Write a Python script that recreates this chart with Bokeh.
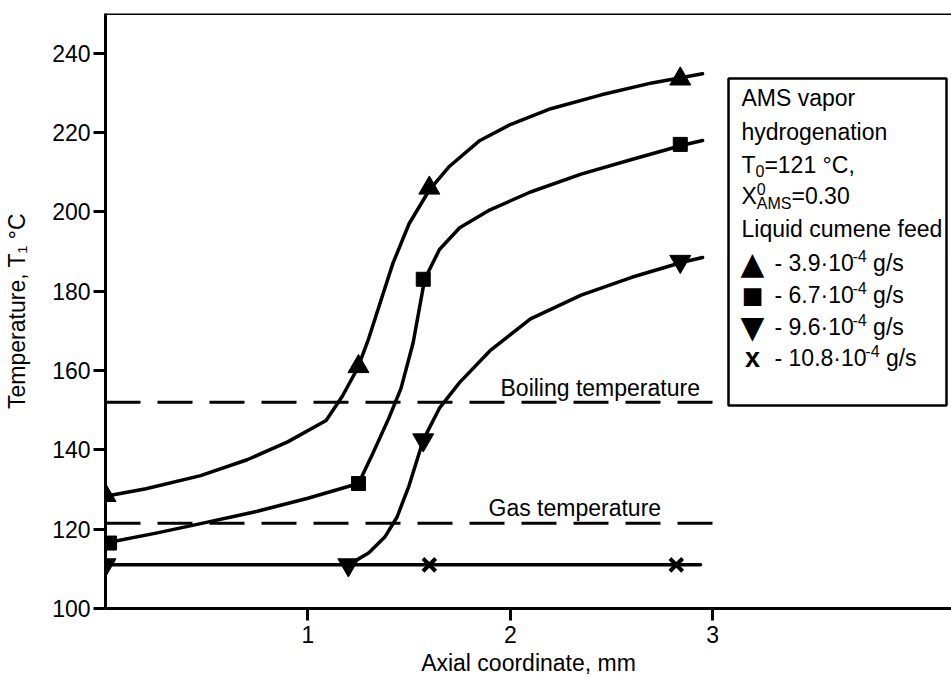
from bokeh.plotting import figure
from bokeh.models import Range1d, FixedTicker, Label, BoxAnnotation, Span
from bokeh.embed import file_html
from bokeh.resources import INLINE

# ---------------- data ----------------
x_ticks = [1, 2, 3]
y_ticks = [100, 120, 140, 160, 180, 200, 220, 240]

# measured points
tri_up_x = [0.0, 1.25, 1.60, 2.84]
tri_up_y = [128.5, 161.0, 206.0, 233.5]
square_x = [0.02, 1.25, 1.57, 2.84]
square_y = [116.5, 131.5, 183.0, 217.0]
tri_down_x = [0.0, 1.20, 1.57, 2.84]
tri_down_y = [111.0, 111.0, 142.5, 187.5]
cross_x = [1.60, 2.82]
cross_y = [111.0, 111.0]

# fitted curves
tri_up_cx = [0.0, 0.2, 0.47, 0.7, 0.9, 1.09, 1.17, 1.245, 1.3, 1.36, 1.42, 1.5, 1.6,
             1.7, 1.85, 2.0, 2.2, 2.45, 2.7, 2.95]
tri_up_cy = [128.3, 130.2, 133.5, 137.5, 142.0, 147.4, 153.5, 160.5, 168.0, 177.5, 187.0,
             197.0, 205.5, 211.5, 218.0, 222.0, 226.0, 229.5, 232.5, 234.8]
square_cx = [0.0, 0.25, 0.47, 0.75, 1.0, 1.25, 1.32, 1.4, 1.46, 1.52, 1.577, 1.65, 1.75,
             1.9, 2.1, 2.35, 2.6, 2.85, 2.95]
square_cy = [116.5, 119.0, 121.4, 124.5, 127.8, 131.5, 139.0, 148.0, 155.5, 167.0, 183.0,
             190.5, 196.0, 200.5, 205.0, 209.5, 213.2, 216.8, 218.0]
tri_down_cx = [1.2, 1.3, 1.38, 1.44, 1.5, 1.57, 1.65, 1.75, 1.9, 2.1, 2.35, 2.6, 2.85, 2.95]
tri_down_cy = [111.0, 114.0, 118.0, 123.0, 131.0, 142.5, 150.5, 157.0, 165.0, 173.0,
               179.0, 183.5, 187.3, 188.5]
cross_cx = [0.0, 2.94]
cross_cy = [111.0, 111.0]

boiling_T = 152.0
gas_T = 121.5
ref_x = [0.0, 3.0]

X_END = 4.18
Y_START, Y_END = 100, 250

# ---------------- figure ----------------
p = figure(width=951, height=680, x_range=Range1d(0, X_END), y_range=Range1d(Y_START, Y_END),
           output_backend="svg", toolbar_location=None,
           min_border_left=105, min_border_right=0, min_border_top=13, min_border_bottom=72)
p.outline_line_color = None
p.xgrid.visible = False
p.ygrid.visible = False
p.background_fill_color = "white"
p.border_fill_color = "white"

FONT = "Liberation Sans"
FS = 23
for ax in (p.xaxis[0], p.yaxis[0]):
    ax.axis_line_width = 3
    ax.axis_line_color = "black"
    ax.major_tick_line_width = 3
    ax.major_tick_line_color = "black"
    ax.major_tick_out = 12
    ax.major_tick_in = 0
    ax.minor_tick_line_color = None
    ax.major_label_text_font = FONT
    ax.major_label_text_font_size = f"{FS}px"
    ax.major_label_text_color = "black"
    ax.axis_label_text_font = FONT
    ax.axis_label_text_font_size = f"{FS}px"
    ax.axis_label_text_font_style = "normal"
    ax.axis_label_text_color = "black"

p.xaxis[0].ticker = FixedTicker(ticks=x_ticks)
p.xaxis[0].major_label_standoff = 5
p.xaxis[0].axis_label = "Axial coordinate, mm"
p.xaxis[0].axis_label_standoff = 4
p.yaxis[0].ticker = FixedTicker(ticks=y_ticks)
p.yaxis[0].major_label_standoff = 3
p.yaxis[0].axis_label = "Temperature, T\u2081 \u00b0C"
p.yaxis[0].axis_label_standoff = 19

# top border line
p.add_layout(Span(location=Y_END, dimension="width", line_color="black", line_width=3))

# reference dashed lines
p.line(ref_x, [boiling_T, boiling_T], line_color="black", line_width=3, line_dash="35 17")
p.line(ref_x, [gas_T, gas_T], line_color="black", line_width=3, line_dash="35 17")

# curves
for cx, cy in ((tri_up_cx, tri_up_cy), (square_cx, square_cy),
               (tri_down_cx, tri_down_cy), (cross_cx, cross_cy)):
    p.line(cx, cy, line_color="black", line_width=3.5, line_join="round", line_cap="round")

# markers
p.scatter(tri_up_x, tri_up_y, marker="triangle", size=21, fill_color="black", line_color="black")
p.scatter(square_x, square_y, marker="square", size=14, fill_color="black", line_color="black")
p.scatter(tri_down_x, tri_down_y, marker="inverted_triangle", size=21, fill_color="black",
          line_color="black")
p.scatter(cross_x, cross_y, marker="x", size=18, line_color="black", line_width=4)

# ---------------- text helpers (page px -> data) ----------------
FL, FR, FT, FB = 105.0, 951.0, 13.0, 608.0


def dx(px):
    return (px - FL) / (FR - FL) * X_END


def dy(py):
    return Y_END - (py - FT) / (FB - FT) * (Y_END - Y_START)


def lab(text, px, py, size=FS, align="left", font=FONT, style="normal"):
    p.add_layout(Label(x=dx(px), y=dy(py), text=text, text_font=font,
                       text_font_size=f"{size}px", text_font_style=style,
                       text_align=align, text_baseline="middle", text_color="black"))


# line annotations
lab("Boiling temperature", 500, 387)
lab("Gas temperature", 488, 507)

# legend box
p.add_layout(BoxAnnotation(left=dx(728), right=dx(946), top=dy(78), bottom=dy(405),
                           fill_color="white", fill_alpha=1.0, line_color="black",
                           line_alpha=1.0, line_width=2.5))

L = 741
lab("AMS vapor", L, 97)
lab("hydrogenation", L, 131)
lab("T", L, 164)
lab("0", L + 14.0, 170, size=16)
lab("=121 \u00b0C,", L + 22.9, 164)
lab("X", L, 195)
lab("0", L + 15.3, 188, size=16)
lab("AMS", L + 15.3, 203, size=16)
lab("=0.30", L + 50.0, 195)
lab("Liquid cumene feed", L, 228)

rows = [("\u25b2", 31, "DejaVu Sans", "normal", "- 3.9\u00b710", 78.0, 262),
        ("\u25a0", 23, "DejaVu Sans", "normal", "- 6.7\u00b710", 78.0, 294),
        ("\u25bc", 31, "DejaVu Sans", "normal", "- 9.6\u00b710", 78.0, 326),
        ("x", 27, FONT, "bold", "- 10.8\u00b710", 90.8, 357)]
for sym, ssize, sfont, sstyle, txt, w, yy in rows:
    lab(sym, 752, yy, size=ssize, align="center", font=sfont, style=sstyle)
    lab(txt, 774, yy)
    lab("-4", 774 + w, yy - 7, size=16)
    lab("g/s", 774 + w + 14.2 + 6.4, yy)

open("out.html", "w").write(file_html(p, INLINE))
